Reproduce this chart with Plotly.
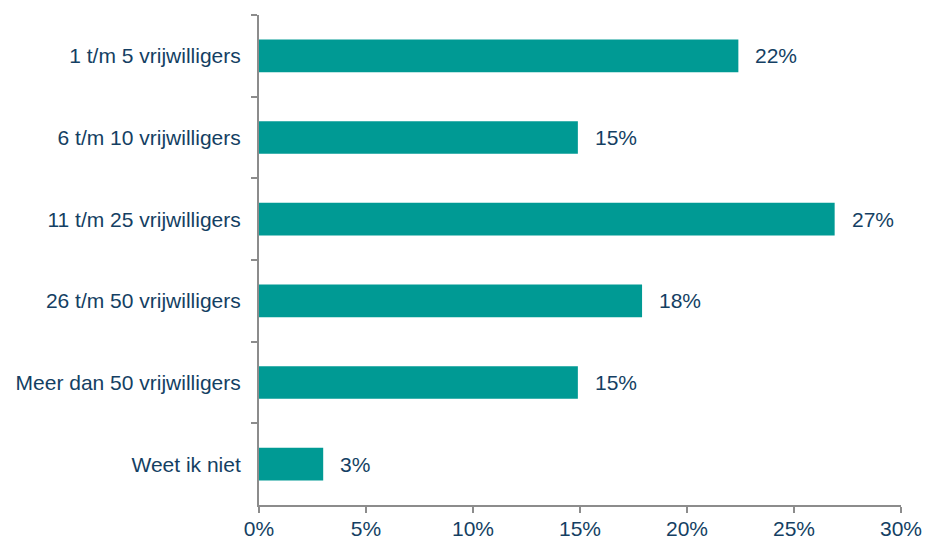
import plotly.graph_objects as go

categories = ["1 t/m 5 vrijwilligers", "6 t/m 10 vrijwilligers", "11 t/m 25 vrijwilligers",
              "26 t/m 50 vrijwilligers", "Meer dan 50 vrijwilligers", "Weet ik niet"]
values = [22.4, 14.9, 26.9, 17.9, 14.9, 3.0]
x_ticks = [0, 5, 10, 15, 20, 25, 30]
x_tick_labels = ["0%", "5%", "10%", "15%", "20%", "25%", "30%"]

text_color = "#143F63"
bar_color = "#009A94"
axis_color = "#8C8C8C"
font_family = "Liberation Sans, Arial, sans-serif"

fig = go.Figure()
fig.add_trace(go.Bar(
    x=values, y=categories, orientation="h",
    marker=dict(color=bar_color, line=dict(width=0)),
    hoverinfo="skip",
))

for c, v in zip(categories, values):
    fig.add_annotation(x=v, y=c, text=f"{round(v)}%", showarrow=False,
                       xanchor="left", yanchor="middle", xshift=15,
                       font=dict(size=21, color=text_color, family=font_family))

fig.update_layout(
    width=925, height=540,
    margin=dict(l=259, r=24, t=15, b=35),
    paper_bgcolor="white", plot_bgcolor="white",
    bargap=0.6,
    showlegend=False,
    font=dict(family=font_family, size=21, color=text_color),
    xaxis=dict(range=[0, 30], tickvals=x_ticks, ticktext=x_tick_labels,
               showgrid=False, zeroline=False, showline=True, linecolor=axis_color,
               linewidth=2, ticks="outside", ticklen=6, tickwidth=2, tickcolor=axis_color,
               ticklabelstandoff=-2, automargin=False,
               tickfont=dict(size=21, color=text_color)),
    yaxis=dict(categoryorder="array", categoryarray=categories, autorange="reversed",
               showgrid=False, zeroline=False, showline=True, linecolor=axis_color,
               linewidth=2, ticks="outside", ticklen=6, tickwidth=2, tickcolor=axis_color,
               tickson="boundaries", ticklabelstandoff=12, automargin=False,
               tickfont=dict(size=21, color=text_color)),
)

fig.write_html("out.html",
               config={"displayModeBar": False},
               post_script="document.body.style.margin='0';document.body.style.overflow='hidden';")
